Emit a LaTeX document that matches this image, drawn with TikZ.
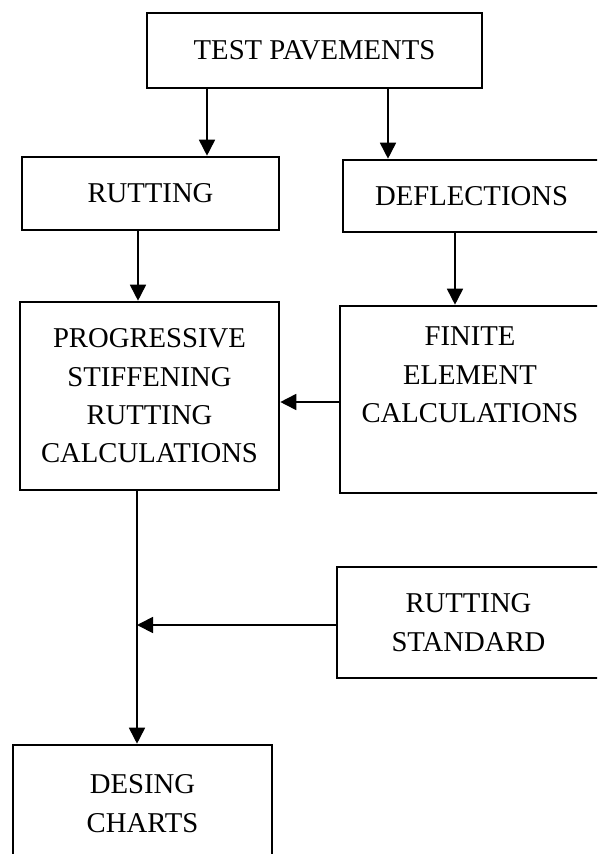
\documentclass[tikz,border=0pt]{standalone}
\usepackage{fontspec}
\setmainfont{Liberation Serif}
\usetikzlibrary{arrows.meta}
\begin{document}
\begin{tikzpicture}[x=1pt,y=-1pt,
  box/.style={draw, line width=2.6pt, inner sep=0pt, align=center,
    font=\fontsize{28.7}{38.3}\selectfont},
  arr/.style={line width=1.7pt, -{Triangle[length=16pt,width=16pt]}}]
\useasboundingbox (0,0) rectangle (597,854);
\clip (0,0) rectangle (597,854);

% boxes
\node[box, minimum width=335pt, minimum height=75pt] (test) at (314.5,50.5) {TEST PAVEMENTS};
\node[box, minimum width=257pt, minimum height=73pt] (rut) at (150.5,193.5) {RUTTING};
\node[box, minimum width=257pt, minimum height=72pt] (defl) at (471.5,196) {DEFLECTIONS};
\node[box, minimum width=259pt, minimum height=188pt] (prog) at (149.5,396)
  {PROGRESSIVE\\STIFFENING\\RUTTING\\CALCULATIONS};
\node[box, minimum width=260pt, minimum height=187pt] (fin) at (470,399.5)
  {FINITE\\ELEMENT\\CALCULATIONS\\\strut};
\node[box, minimum width=263pt, minimum height=111pt] (std) at (468.5,622.5)
  {RUTTING\\STANDARD};
\node[box, minimum width=259pt, minimum height=117pt] (des) at (142.5,803.5)
  {DESING\\CHARTS};

% connector columns and rows
\coordinate (c1) at (207,0);
\coordinate (c2) at (388,0);
\coordinate (c3) at (138,0);
\coordinate (c4) at (455,0);
\coordinate (c5) at (137,0);
\coordinate (r1) at (0,402);
\coordinate (r2) at (0,625);
\coordinate (j) at (137,625);

% connectors
\draw[arr] (test.south -| c1) -- (rut.north -| c1);
\draw[arr] (test.south -| c2) -- (defl.north -| c2);
\draw[arr] (rut.south -| c3) -- (prog.north -| c3);
\draw[arr] (defl.south -| c4) -- (fin.north -| c4);
\draw[arr] (fin.west |- r1) -- (prog.east |- r1);
\draw[arr] (prog.south -| c5) -- (des.north -| c5);
\draw[arr] (std.west |- r2) -- (j);
\end{tikzpicture}
\end{document}
